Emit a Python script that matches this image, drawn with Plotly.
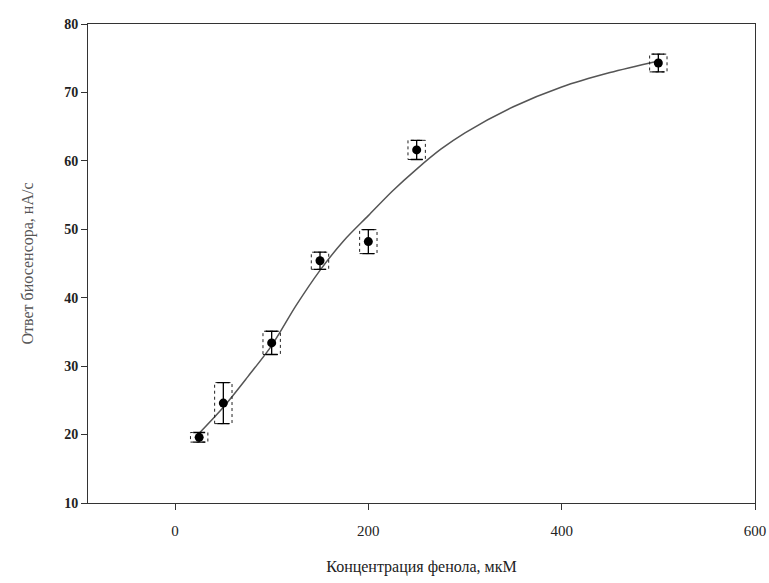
import plotly.graph_objects as go

# Measured data
conc = [25, 50, 100, 150, 200, 250, 500]
resp = [19.6, 24.6, 33.4, 45.4, 48.2, 61.6, 74.3]
err = [0.7, 3.0, 1.7, 1.25, 1.75, 1.4, 1.3]

# Fitted curve
fit_x = [25, 50, 75, 100, 125, 150, 175, 200, 225, 250, 275, 300, 350, 400, 450, 500]
fit_y = [20.2, 24.0, 28.4, 33.0, 38.8, 44.0, 48.4, 52.0, 55.6, 58.8, 61.7, 64.1, 67.9, 70.8, 72.9, 74.6]

x_ticks = [0, 200, 400, 600]
y_ticks = [10, 20, 30, 40, 50, 60, 70, 80]

box_half_w = 9

fig = go.Figure()

fig.add_trace(go.Scatter(x=fit_x, y=fit_y, mode="lines",
                         line=dict(color="#555555", width=1.5, shape="spline", smoothing=0.8),
                         showlegend=False, hoverinfo="skip"))

bx, by = [], []
for x, y, e in zip(conc, resp, err):
    x0, x1 = x - box_half_w, x + box_half_w
    y0, y1 = y - e, y + e
    bx += [x0, x1, x1, x0, x0, None]
    by += [y0, y0, y1, y1, y0, None]
fig.add_trace(go.Scatter(x=bx, y=by, mode="lines",
                         line=dict(color="#222222", width=1, dash="dot"),
                         showlegend=False, hoverinfo="skip"))

fig.add_trace(go.Scatter(x=conc, y=resp, mode="markers",
                         marker=dict(color="black", size=9, symbol="circle"),
                         error_y=dict(type="data", array=err, visible=True,
                                      color="black", thickness=1.3, width=6),
                         showlegend=False))

font_serif = "Liberation Serif, Times New Roman, serif"

fig.update_layout(
    width=769, height=583,
    margin=dict(l=88, r=14, t=24, b=80),
    paper_bgcolor="white", plot_bgcolor="white",
    font=dict(family=font_serif, color="black"),
    xaxis=dict(range=[-90, 600], tickvals=x_ticks, ticks="outside", ticklen=6,
               tickwidth=1, tickcolor="#333", showline=True, linecolor="#333",
               linewidth=1, mirror=True, showgrid=False, zeroline=False,
               automargin=False, ticklabelstandoff=8,
               tickfont=dict(size=15, family=font_serif, color="#222"),
               title=dict(text="Концентрация фенола, мкМ",
                          font=dict(size=16, family=font_serif, color="#222"),
                          standoff=22)),
    yaxis=dict(range=[10, 80], tickvals=y_ticks, ticks="outside", ticklen=6,
               tickwidth=1, tickcolor="#333", showline=True, linecolor="#333",
               linewidth=1, mirror=True, showgrid=False, zeroline=False,
               automargin=False,
               tickfont=dict(size=14, family=font_serif, color="#222", weight="bold"),
               title=dict(text="Ответ биосенсора, нА/с",
                          font=dict(size=16, family=font_serif, color="#555"),
                          standoff=26)),
)

fig.write_html("out.html", config={"displayModeBar": False},
               post_script="document.body.style.margin='0';")
